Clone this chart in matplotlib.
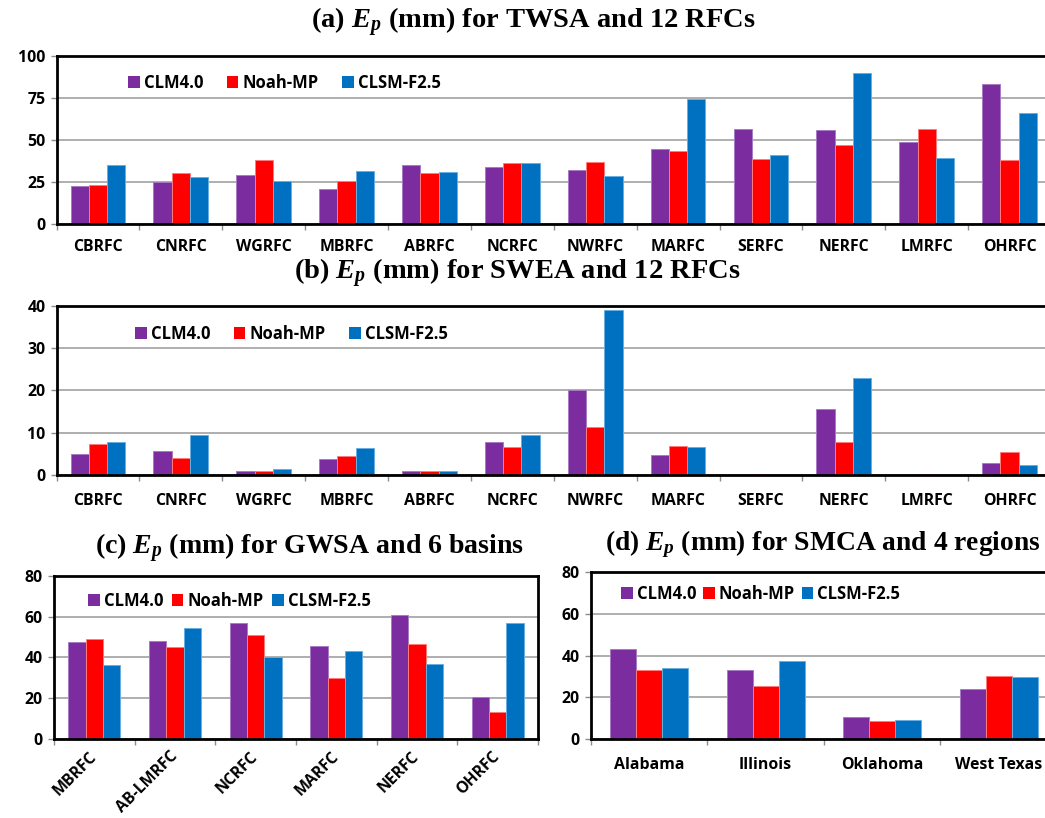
import matplotlib
matplotlib.use("Agg")
import matplotlib.pyplot as plt
from matplotlib.patches import Patch
from matplotlib.font_manager import FontProperties
import numpy as np

# ---------------- data ----------------
models = ["CLM4.0", "Noah-MP", "CLSM-F2.5"]

rfcs = ["CBRFC", "CNRFC", "WGRFC", "MBRFC", "ABRFC", "NCRFC",
        "NWRFC", "MARFC", "SERFC", "NERFC", "LMRFC", "OHRFC"]
twsa_clm = [22.6, 24.6, 28.9, 20.6, 35.0, 33.5, 32.0, 44.5, 56.3, 55.7, 48.7, 83.1]
twsa_noah = [23.2, 30.3, 37.8, 25.5, 30.3, 36.0, 37.0, 43.3, 38.4, 47.1, 56.3, 38.0]
twsa_clsm = [34.7, 27.9, 25.5, 31.5, 30.7, 36.1, 28.6, 74.4, 40.8, 89.5, 39.0, 66.0]

swea_clm = [4.9, 5.7, 0.9, 3.9, 1.0, 7.8, 20.0, 4.8, 0.05, 15.6, 0.1, 2.8]
swea_noah = [7.4, 4.0, 1.0, 4.5, 1.0, 6.7, 11.4, 6.8, 0.2, 7.7, 0.25, 5.5]
swea_clsm = [7.9, 9.4, 1.4, 6.4, 1.0, 9.5, 38.9, 6.6, 0.05, 22.9, 0.1, 2.4]

basins = ["MBRFC", "AB-LMRFC", "NCRFC", "MARFC", "NERFC", "OHRFC"]
gwsa_clm = [47.4, 48.2, 56.6, 45.4, 60.7, 20.5]
gwsa_noah = [48.9, 45.1, 50.8, 29.7, 46.6, 13.0]
gwsa_clsm = [36.1, 54.3, 40.3, 43.3, 36.7, 56.6]

regions = ["Alabama", "Illinois", "Oklahoma", "West Texas"]
smca_clm = [42.9, 32.9, 10.5, 23.8]
smca_noah = [32.9, 25.4, 8.6, 30.2]
smca_clsm = [33.9, 37.2, 9.1, 29.7]

# ---------------- style ----------------
colors = ["#7B2C9E", "#FF0000", "#0070C0"]
edges = ["#A77CC4", "#FF7A7A", "#69AEE2"]

plt.rcParams["mathtext.fontset"] = "custom"
plt.rcParams["mathtext.it"] = "Liberation Serif:italic:bold"
plt.rcParams["mathtext.rm"] = "Liberation Serif:bold"

W, H = 1045, 818
fig = plt.figure(figsize=(W / 100, H / 100), dpi=100)

tick_font = FontProperties(family="Open Sans", weight="bold", size=11.4)
leg_font = FontProperties(family="Open Sans", weight="bold", size=12)


def title_font(size):
    return dict(family="Liberation Serif", weight="bold", size=size)


def add_axes_px(left, top, right, bottom):
    return fig.add_axes([left / W, 1 - bottom / H, (right - left) / W, (bottom - top) / H])


def bar_panel(ax, cats, series, ymax, ystep, rotate=False, width=0.22, xpad=13):
    n = len(cats)
    x = np.arange(n) + 0.5
    for k, vals in enumerate(series):
        ax.bar(x + (k - 1) * width, vals, width=width, color=colors[k],
               edgecolor=edges[k], linewidth=0.7, zorder=3)
    ax.set_xlim(0, n)
    ax.set_ylim(0, ymax)
    ax.set_yticks(np.arange(0, ymax + 0.1, ystep))
    ax.yaxis.grid(True, color="#A8A8A8", linewidth=1.3, zorder=0)
    ax.set_axisbelow(True)
    # boundary ticks between categories, labels at category centres
    ax.set_xticks(np.arange(0, n + 1))
    ax.set_xticklabels([])
    ax.set_xticks(x, minor=True)
    ax.tick_params(axis="x", which="major", length=4.5, width=1.0, color="#8C8C8C", direction="out")
    ax.tick_params(axis="x", which="minor", length=0)
    ax.tick_params(axis="y", length=4, width=1.0, color="#8C8C8C", direction="out", pad=4)
    if rotate:
        ax.set_xticklabels(cats, minor=True, rotation=45, ha="right", va="center",
                           rotation_mode="anchor", fontproperties=tick_font)
        ax.tick_params(axis="x", which="minor", pad=11)
    else:
        ax.set_xticklabels(cats, minor=True, fontproperties=tick_font)
        ax.tick_params(axis="x", which="minor", pad=xpad)
    for lab in ax.get_yticklabels():
        lab.set_fontproperties(tick_font)
    for side in ["top", "right", "left", "bottom"]:
        ax.spines[side].set_color("black")
        ax.spines[side].set_linewidth(2.0)
        ax.spines[side].set_zorder(5)


def add_legend(ax, xpx, ypx, colspace):
    handles = [Patch(facecolor=c, edgecolor="none") for c in colors]
    ax.legend(handles, models, loc="center left",
              bbox_to_anchor=(xpx / W, 1 - ypx / H), bbox_transform=fig.transFigure,
              ncol=3, frameon=False, handlelength=0.7, handleheight=0.7,
              handletextpad=0.25, columnspacing=colspace, borderpad=0,
              borderaxespad=0, prop=leg_font)


# (a) TWSA
ax_a = add_axes_px(56.5, 55.7, 1051, 223.7)
bar_panel(ax_a, rfcs, [twsa_clm, twsa_noah, twsa_clsm], 100, 25, xpad=11)
add_legend(ax_a, 128, 83, 1.4)
fig.text(533 / W, 1 - 22 / H, "(a) $E_p$ (mm) for TWSA and 12 RFCs",
         ha="center", va="center", **title_font(20.5))

# (b) SWEA
ax_b = add_axes_px(56.5, 305.8, 1051, 475)
bar_panel(ax_b, rfcs, [swea_clm, swea_noah, swea_clsm], 40, 10)
add_legend(ax_b, 135, 334, 1.4)
fig.text(517 / W, 1 - 273 / H, "(b) $E_p$ (mm) for SWEA and 12 RFCs",
         ha="center", va="center", **title_font(20.5))

# (c) GWSA
ax_c = add_axes_px(54, 575.7, 538, 739)
bar_panel(ax_c, basins, [gwsa_clm, gwsa_noah, gwsa_clsm], 80, 20, rotate=True, width=0.215)
add_legend(ax_c, 88, 601, 0.5)
fig.text(310 / W, 1 - 548 / H, "(c) $E_p$ (mm) for GWSA and 6 basins",
         ha="center", va="center", **title_font(20.1))

# (d) SMCA
ax_d = add_axes_px(590.7, 571.7, 1057, 739.3)
bar_panel(ax_d, regions, [smca_clm, smca_noah, smca_clsm], 80, 20, width=0.223)
add_legend(ax_d, 621, 594, 0.4)
fig.text(823 / W, 1 - 544 / H, "(d) $E_p$ (mm) for SMCA and 4 regions",
         ha="center", va="center", **title_font(19.8))

fig.savefig("out.png", dpi=100)
